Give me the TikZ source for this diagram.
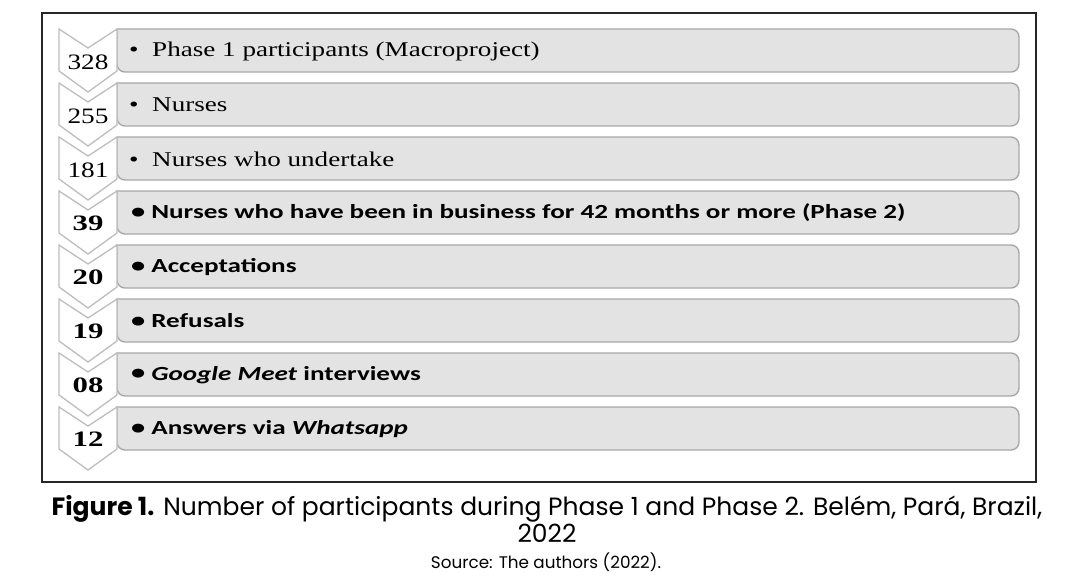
\documentclass[tikz,border=0pt]{standalone}
\usepackage{fontspec}
\usepackage{graphicx}
\newfontfamily\serifT{Liberation Serif}
\newfontfamily\sansB{Carlito}
\newfontfamily\capfont{Poppins}
\definecolor{rectfill}{HTML}{E3E3E3}
\definecolor{rectline}{HTML}{A8A8A8}
\definecolor{chevline}{HTML}{BDBDBD}
\tikzset{
  rowrect/.style={fill=rectfill,draw=rectline,line width=1.4pt},
  chev/.style={fill=white,draw=chevline,line width=1.3pt,line join=miter},
  numlabel/.style={inner sep=0pt,anchor=center},
  txtlabel/.style={inner sep=0pt,anchor=west},
}
\newcommand{\stretchT}[1]{\scalebox{1.29}[1]{\fontsize{21}{21}\selectfont\serifT #1}}
\newcommand{\stretchB}[1]{\scalebox{1.355}[1]{\fontsize{20}{20}\selectfont\sansB\bfseries #1}}
\newcommand{\bigbul}{\raisebox{0.02em}{\scalebox{1.05}{\textbullet}}\hspace{0.22em}}
\newcommand{\numT}[1]{\scalebox{1.24}[1]{\fontsize{22}{22}\selectfont\serifT #1}}
\newcommand{\numB}[1]{\scalebox{1.4}[1]{\fontsize{22}{22}\selectfont\serifT\bfseries #1}}
\begin{document}
\begin{tikzpicture}[x=1pt,y=-1pt]
\useasboundingbox (0,0) rectangle (1092,588);
% outer frame
\draw[line width=2pt,draw=black!85] (42,13) rectangle (1036,482);
% rows
\foreach \i in {0,...,7}{
  \pgfmathsetmacro{\yo}{29+54*\i}
  \draw[rowrect,rounded corners=8pt] (117,\yo) -- (1019,\yo) -- (1019,\yo+43) -- (117,\yo+43) [sharp corners] -- cycle;
  \draw[chev] (59,\yo) -- (88,\yo+19) -- (117,\yo) -- (117,\yo+42) -- (88,\yo+63) -- (59,\yo+42) -- cycle;
}
% numbers
\node[numlabel] (n1) at (88,62) {\numT{328}};
\node[numlabel] (n2) at (88,116) {\numT{255}};
\node[numlabel] (n3) at (88,170) {\numT{181}};
\node[numlabel] (n4) at (88,223) {\numB{39}};
\node[numlabel] (n5) at (88,277) {\numB{20}};
\node[numlabel] (n6) at (88,331) {\numB{19}};
\node[numlabel] (n7) at (88,385) {\numB{08}};
\node[numlabel] (n8) at (88,439) {\numB{12}};
% texts
\node[txtlabel] (t1) at (129,51) {\stretchT{\textbullet\ \ Phase 1 participants (Macroproject)}};
\node[txtlabel] (t2) at (129,105) {\stretchT{\textbullet\ \ Nurses}};
\node[txtlabel] (t3) at (129,159) {\stretchT{\textbullet\ \ Nurses who undertake}};
\node[txtlabel] (t4) at (131,213) {\stretchB{\bigbul Nurses who have been in business for 42 months or more (Phase 2)}};
\node[txtlabel] (t5) at (131,267) {\stretchB{\bigbul Acceptations}};
\node[txtlabel] (t6) at (131,321) {\stretchB{\bigbul Refusals}};
\node[txtlabel] (t7) at (131,375) {\stretchB{\bigbul \textit{Google Meet} interviews}};
\node[txtlabel] (t8) at (131,429) {\stretchB{\bigbul Answers via \textit{Whatsapp}}};
% caption
\node[inner sep=0pt,anchor=center] (cap1) at (547,509) {\fontsize{25}{25}\selectfont\capfont\textbf{Figure 1.} Number of participants during Phase 1 and Phase 2. Belém, Pará, Brazil,};
\node[inner sep=0pt,anchor=center] (cap2) at (547,533) {\fontsize{25}{25}\selectfont\capfont 2022};
\node[inner sep=0pt,anchor=center] (src) at (546,562) {\fontsize{16.8}{16.8}\selectfont\capfont Source: The authors (2022).};
\end{tikzpicture}
\end{document}
